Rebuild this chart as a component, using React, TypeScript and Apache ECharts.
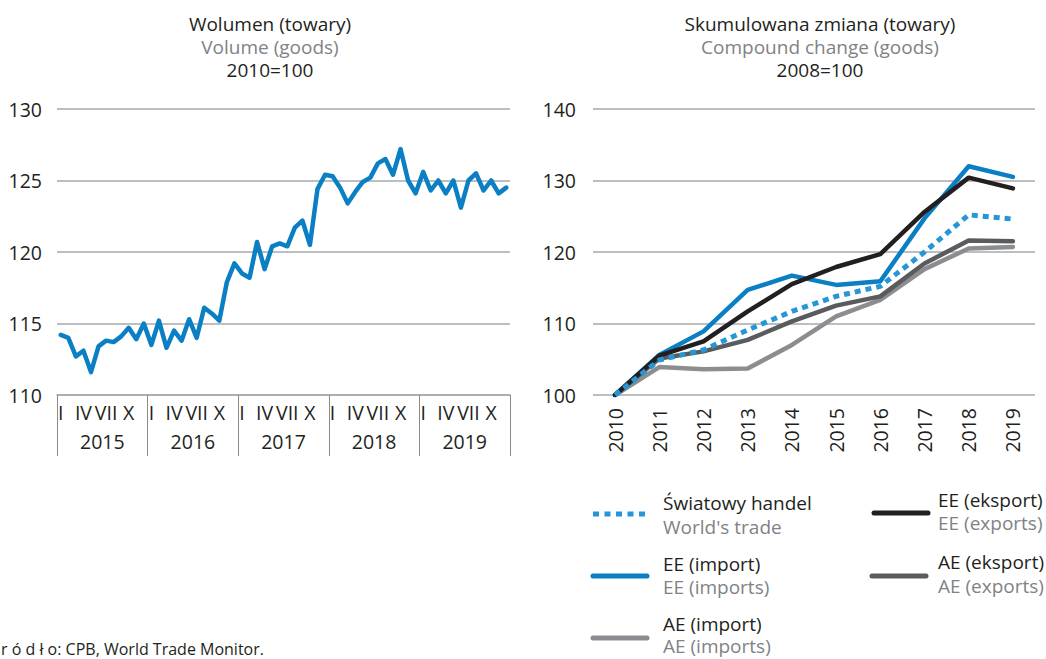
import React, { useEffect, useRef } from "react";
import * as echarts from "echarts";

// ---------- DATA ----------
const volumeYears = ["2015", "2016", "2017", "2018", "2019"];
const romanMonths = ["I", "II", "III", "IV", "V", "VI", "VII", "VIII", "IX", "X", "XI", "XII"];
const volume = [
  114.2, 114.0, 112.7, 113.1, 111.6, 113.4, 113.8, 113.7, 114.1, 114.7, 113.9, 115.0,
  113.5, 115.2, 113.3, 114.5, 113.8, 115.3, 114.0, 116.1, 115.7, 115.2, 117.9, 119.2,
  118.5, 118.2, 120.7, 118.8, 120.4, 120.6, 120.4, 121.7, 122.2, 120.5, 124.4, 125.4,
  125.3, 124.5, 123.4, 124.2, 124.9, 125.2, 126.2, 126.5, 125.4, 127.2, 125.0, 124.1,
  125.6, 124.3, 125.0, 124.1, 125.0, 123.1, 125.0, 125.5, 124.3, 125.0, 124.1, 124.5,
];

const changeYears = ["2010", "2011", "2012", "2013", "2014", "2015", "2016", "2017", "2018", "2019"];
const worldTrade = [100, 104.9, 106.3, 109.1, 111.7, 113.8, 115.2, 120.0, 125.2, 124.6];
const eeImport = [100, 105.6, 108.9, 114.7, 116.7, 115.4, 115.9, 124.7, 132.0, 130.5];
const aeImport = [100, 103.9, 103.6, 103.7, 107.0, 111.0, 113.3, 117.6, 120.5, 120.7];
const eeExport = [100, 105.5, 107.5, 111.7, 115.5, 117.9, 119.7, 125.6, 130.4, 128.9];
const aeExport = [100, 105.1, 106.1, 107.7, 110.3, 112.5, 113.8, 118.4, 121.6, 121.5];

const leftTitle = ["Wolumen (towary)", "Volume (goods)", "2010=100"];
const rightTitle = ["Skumulowana zmiana (towary)", "Compound change (goods)", "2008=100"];
const sourceText = "r ó d ł o: CPB, World Trade Monitor.";

// ---------- STYLE ----------
const FONT = '"Open Sans", "Noto Sans", sans-serif';
const DARK = "#231f20";
const GREY_TXT = "#808285";
const GRID = "#a7a9ac";
const BLUE = "#0a7fc4";
const BLUE_DOT = "#2596d6";
const BLACK = "#231f20";
const DGREY = "#5a5b5d";
const LGREY = "#8b8d90";
const TS = 19; // title / legend font size
const AS = 19.5; // axis font size

const monthCats: string[] = [];
volumeYears.forEach((y) => {
  for (let m = 1; m <= 12; m++) monthCats.push(y + "-" + (m < 10 ? "0" + m : m));
});

function txt(text: string, x: number, y: number, fill: string, size: number, align = "left") {
  return {
    type: "text",
    x,
    y,
    silent: true,
    style: {
      text,
      fill,
      fontSize: size,
      fontFamily: FONT,
      lineHeight: size,
      align,
      verticalAlign: "middle",
      textAlign: align,
      textVerticalAlign: "middle",
    },
  };
}

function legLine(x1: number, x2: number, y: number, color: string, dotted = false) {
  return {
    type: "line",
    silent: true,
    shape: { x1, y1: y, x2, y2: y },
    style: {
      stroke: color,
      lineWidth: 5,
      lineCap: dotted ? "butt" : "round",
      lineDash: dotted ? [6, 5.5] : null,
    },
  };
}

export default function App() {
  const ref = useRef<HTMLDivElement>(null);

  useEffect(() => {
    if (!ref.current) return;
    const chart = echarts.init(ref.current, null, { renderer: "svg" });
    const axisText = { fontSize: AS, fontFamily: FONT, color: DARK };

    const option: any = {
      animation: false,
      textStyle: { fontFamily: FONT },
      grid: [
        { left: 57, top: 109, width: 453, height: 286 },
        { left: 593, top: 109, width: 442, height: 286 },
      ],
      xAxis: [
        {
          gridIndex: 0,
          type: "category",
          data: monthCats,
          position: "bottom",
          boundaryGap: true,
          axisLine: { show: false },
          axisTick: { show: false },
          splitLine: { show: false },
          axisLabel: {
            ...axisText,
            margin: 7,
            interval: (i: number) => i % 3 === 0,
            formatter: (v: string) => romanMonths[parseInt(v.slice(5), 10) - 1],
          },
        },
        {
          gridIndex: 0,
          type: "category",
          data: volumeYears,
          position: "bottom",
          boundaryGap: true,
          axisLine: { show: true, lineStyle: { color: GRID, width: 1.5 } },
          axisTick: { show: true, interval: 0, length: 61, lineStyle: { color: "#8a8a8a", width: 1 } },
          splitLine: { show: false },
          axisLabel: { ...axisText, margin: 36, interval: 0 },
        },
        {
          gridIndex: 1,
          type: "category",
          data: changeYears,
          boundaryGap: true,
          axisLine: { show: false },
          axisTick: { show: false },
          splitLine: { show: false },
          axisLabel: { ...axisText, rotate: 90, margin: 13, interval: 0 },
        },
      ],
      yAxis: [
        {
          gridIndex: 0,
          type: "value",
          min: 110,
          max: 130,
          interval: 5,
          axisLine: { show: false },
          axisTick: { show: false },
          axisLabel: { ...axisText, margin: 15 },
          splitLine: { show: true, lineStyle: { color: GRID, width: 1.5 } },
        },
        {
          gridIndex: 1,
          type: "value",
          min: 100,
          max: 140,
          interval: 10,
          axisLine: { show: false },
          axisTick: { show: false },
          axisLabel: { ...axisText, margin: 17 },
          splitLine: { show: true, lineStyle: { color: GRID, width: 1.5 } },
        },
      ],
      series: [
        {
          name: "Volume",
          type: "line",
          xAxisIndex: 0,
          yAxisIndex: 0,
          data: volume,
          showSymbol: false,
          symbol: "none",
          lineStyle: { color: BLUE, width: 4.5, join: "round", cap: "round" },
        },
        {
          name: "AE (import)",
          type: "line",
          xAxisIndex: 2,
          yAxisIndex: 1,
          data: aeImport,
          symbol: "none",
          lineStyle: { color: LGREY, width: 4.5, join: "round", cap: "round" },
        },
        {
          name: "AE (eksport)",
          type: "line",
          xAxisIndex: 2,
          yAxisIndex: 1,
          data: aeExport,
          symbol: "none",
          lineStyle: { color: DGREY, width: 4.5, join: "round", cap: "round" },
        },
        {
          name: "EE (import)",
          type: "line",
          xAxisIndex: 2,
          yAxisIndex: 1,
          data: eeImport,
          symbol: "none",
          lineStyle: { color: BLUE, width: 4.5, join: "round", cap: "round" },
        },
        {
          name: "EE (eksport)",
          type: "line",
          xAxisIndex: 2,
          yAxisIndex: 1,
          data: eeExport,
          symbol: "none",
          lineStyle: { color: BLACK, width: 4.5, join: "round", cap: "round" },
        },
        {
          name: "Światowy handel",
          type: "line",
          xAxisIndex: 2,
          yAxisIndex: 1,
          data: worldTrade,
          symbol: "none",
          lineStyle: { color: BLUE_DOT, width: 5, type: [6, 5], cap: "butt" },
        },
      ],
      graphic: [
        txt(leftTitle[0], 270, 24, DARK, TS, "center"),
        txt(leftTitle[1], 270, 47, GREY_TXT, TS, "center"),
        txt(leftTitle[2], 270, 70, DARK, TS, "center"),
        txt(rightTitle[0], 820, 24, DARK, TS, "center"),
        txt(rightTitle[1], 820, 47, GREY_TXT, TS, "center"),
        txt(rightTitle[2], 820, 70, DARK, TS, "center"),
        legLine(593, 645, 514, BLUE_DOT, true),
        txt("Światowy handel", 663, 503, DARK, TS),
        txt("World's trade", 663, 527, GREY_TXT, TS),
        legLine(593, 647, 576, BLUE),
        txt("EE (import)", 663, 564, DARK, TS),
        txt("EE (imports)", 663, 587, GREY_TXT, TS),
        legLine(593, 647, 638, LGREY),
        txt("AE (import)", 663, 624, DARK, TS),
        txt("AE (imports)", 663, 646, GREY_TXT, TS),
        legLine(874, 928, 513, BLACK),
        txt("EE (eksport)", 938, 500, DARK, TS),
        txt("EE (exports)", 938, 523, GREY_TXT, TS),
        legLine(872, 926, 576, DGREY),
        txt("AE (eksport)", 938, 562, DARK, TS),
        txt("AE (exports)", 938, 586, GREY_TXT, TS),
        txt(sourceText, 1, 649, DARK, 16),
      ],
    };

    chart.setOption(option);
    return () => {
      chart.dispose();
    };
  }, []);

  return (
    <div
      ref={ref}
      style={{ position: "absolute", left: 0, top: 0, width: 1046, height: 659, background: "#fff" }}
    />
  );
}
